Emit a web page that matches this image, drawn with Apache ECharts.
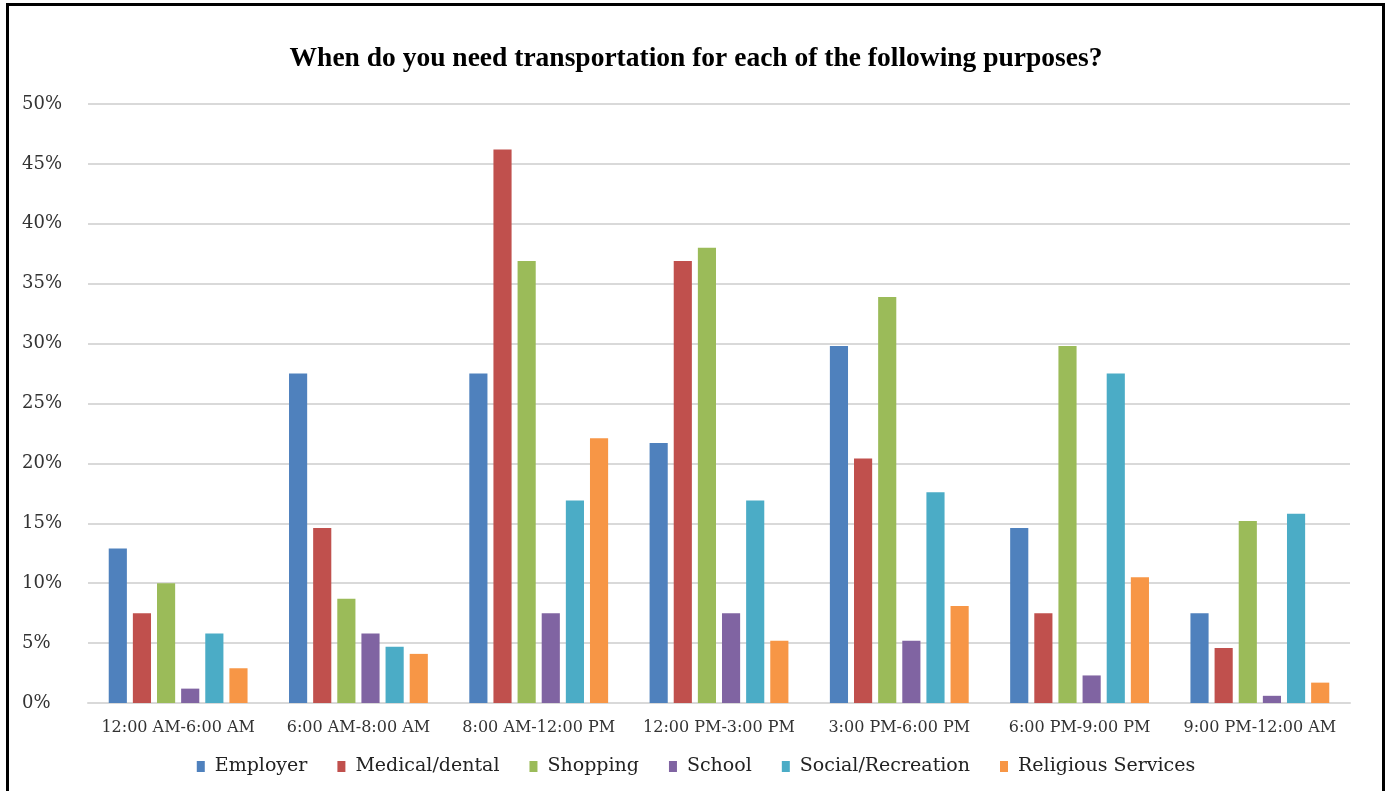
<!DOCTYPE html>
<html>
<head>
<meta charset="utf-8">
<script src="https://cdn.jsdelivr.net/npm/echarts@6/dist/echarts.min.js"></script>
<style>
html,body{margin:0;padding:0;background:#fff;}
#frame{position:absolute;left:6px;top:3px;width:1379px;height:800px;border:3px solid #000;box-sizing:border-box;}
#chart{position:absolute;left:0;top:0;width:1392px;height:791px;}
</style>
</head>
<body>
<div id="frame"></div>
<div id="chart"></div>
<script>
const categories = ['12:00 AM-6:00 AM','6:00 AM-8:00 AM','8:00 AM-12:00 PM','12:00 PM-3:00 PM','3:00 PM-6:00 PM','6:00 PM-9:00 PM','9:00 PM-12:00 AM'];
const employer   = [12.9, 27.5, 27.5, 21.7, 29.8, 14.6, 7.5];
const medical    = [7.5, 14.6, 46.2, 36.9, 20.4, 7.5, 4.6];
const shopping   = [10.0, 8.7, 36.9, 38.0, 33.9, 29.8, 15.2];
const school     = [1.2, 5.8, 7.5, 7.5, 5.2, 2.3, 0.6];
const social     = [5.8, 4.7, 16.9, 16.9, 17.6, 27.5, 15.8];
const religious  = [2.9, 4.1, 22.1, 5.2, 8.1, 10.5, 1.7];
const seriesNames = ['Employer','Medical/dental','Shopping','School','Social/Recreation','Religious Services'];
const yTicks = [0,5,10,15,20,25,30,35,40,45,50];

const colors = ['#4f81bd','#c0504d','#9bbb59','#8064a2','#4bacc6','#f79646'];
const font = '"DejaVu Serif", serif';
const titleFont = '"Liberation Serif", serif';
const allData = [employer, medical, shopping, school, social, religious];

const chart = echarts.init(document.getElementById('chart'));
chart.setOption({
  animation:false,
  color: colors,
  title:{
    text:'When do you need transportation for each of the following purposes?',
    left:'center', top:40,
    textStyle:{fontFamily:titleFont, fontWeight:'bold', fontSize:27.5, color:'#000'}
  },
  legend:{
    data: seriesNames,
    bottom:10, left:'center',
    itemWidth:8, itemHeight:11, itemGap:30,
    icon:'rect',
    textStyle:{fontFamily:font, fontSize:19, color:'#222', padding:[0,0,0,5]}
  },
  grid:{left:88, right:42, top:104, bottom:88},
  xAxis:{
    type:'category', data:categories,
    axisLine:{lineStyle:{color:'#d9d9d9', width:2}},
    axisTick:{show:false},
    axisLabel:{fontFamily:font, fontSize:16, color:'#333', margin:17, interval:0}
  },
  yAxis:{
    type:'value', min:0, max:50, interval:5,
    axisLine:{show:false}, axisTick:{show:false},
    splitLine:{lineStyle:{color:'#d9d9d9', width:2}},
    axisLabel:{fontFamily:font, fontSize:18, color:'#333', align:'left', margin:66,
      formatter: v => yTicks.includes(v) ? v + '%' : ''}
  },
  series: seriesNames.map((n,i)=>({
    name:n, type:'bar', data: allData[i],
    barGap:'33%', barCategoryGap:'23%'
  }))
});
</script>
</body>
</html>
